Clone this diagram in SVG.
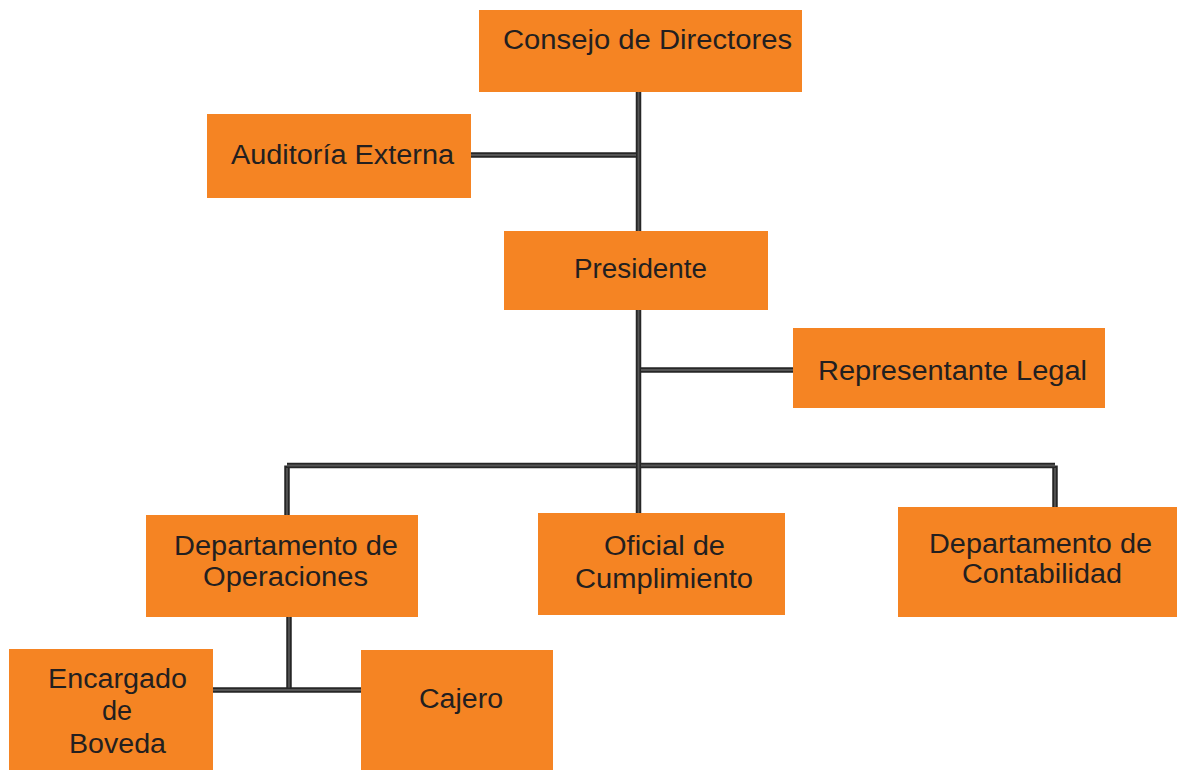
<svg xmlns="http://www.w3.org/2000/svg" width="1177" height="770" viewBox="0 0 1177 770">
<style>
.box{fill:#f58423}
.t{font-family:"Liberation Sans",Arial,sans-serif;font-size:27px;fill:#231f20;text-anchor:middle}
.lo{fill:none;stroke:#262626;stroke-width:5.5}
.li{fill:none;stroke:#555555;stroke-width:1.8}
</style>
<rect width="1177" height="770" fill="#ffffff"/>
<g id="connectors">
<g class="lo">
<path d="M638.5 92V231M471 155H638.5M638.5 310V513M638.5 370H793M287 465.5H1055M287 465.5V515M1055 465.5V507M289 617V690M213 690H361"/>
</g>
<g class="li">
<path d="M638.5 92V231M471 155H636M638.5 310V513M641 370H793M287 465.5H636M641 465.5H1055M287 468V515M1055 468V507M289 617V687.5M213 690H361"/>
</g>
</g>
<g id="consejo"><rect class="box" x="479" y="10" width="323" height="82"/><text class="t" x="647.5" y="49" textLength="289" lengthAdjust="spacingAndGlyphs">Consejo de Directores</text></g>
<g id="auditoria"><rect class="box" x="207" y="114" width="264" height="84"/><text class="t" x="342.5" y="164" textLength="223" lengthAdjust="spacingAndGlyphs">Auditoría Externa</text></g>
<g id="presidente"><rect class="box" x="504" y="231" width="264" height="79"/><text class="t" x="640.5" y="278" textLength="133" lengthAdjust="spacingAndGlyphs">Presidente</text></g>
<g id="representante"><rect class="box" x="793" y="328" width="312" height="80"/><text class="t" x="952.5" y="380" textLength="269" lengthAdjust="spacingAndGlyphs">Representante Legal</text></g>
<g id="operaciones"><rect class="box" x="146" y="515" width="272" height="102"/><text class="t" x="286" y="555" textLength="224" lengthAdjust="spacingAndGlyphs">Departamento de</text><text class="t" x="285.5" y="586" textLength="165" lengthAdjust="spacingAndGlyphs">Operaciones</text></g>
<g id="oficial"><rect class="box" x="538" y="513" width="247" height="102"/><text class="t" x="664.5" y="555" textLength="121" lengthAdjust="spacingAndGlyphs">Oficial de</text><text class="t" x="664" y="588" textLength="178" lengthAdjust="spacingAndGlyphs">Cumplimiento</text></g>
<g id="contabilidad"><rect class="box" x="898" y="507" width="279" height="110"/><text class="t" x="1040.5" y="553" textLength="223" lengthAdjust="spacingAndGlyphs">Departamento de</text><text class="t" x="1042" y="583" textLength="160" lengthAdjust="spacingAndGlyphs">Contabilidad</text></g>
<g id="encargado"><rect class="box" x="9" y="649" width="204" height="121"/><text class="t" x="117.5" y="688" textLength="139" lengthAdjust="spacingAndGlyphs">Encargado</text><text class="t" x="117" y="720">de</text><text class="t" x="117.5" y="753" textLength="97" lengthAdjust="spacingAndGlyphs">Boveda</text></g>
<g id="cajero"><rect class="box" x="361" y="650" width="192" height="120"/><text class="t" x="461" y="708" textLength="84" lengthAdjust="spacingAndGlyphs">Cajero</text></g>
</svg>
